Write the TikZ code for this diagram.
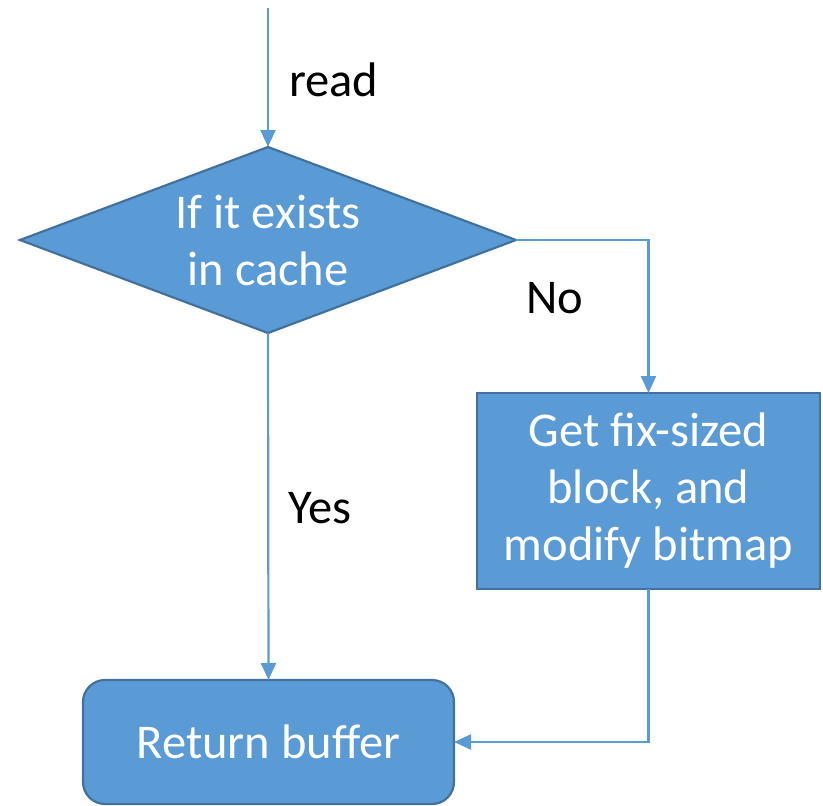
\documentclass[tikz,border=0pt]{standalone}
\usepackage{fontspec}
\setmainfont{Carlito}
\usetikzlibrary{shapes.geometric,arrows.meta}
\definecolor{boxfill}{HTML}{5B9BD5}
\definecolor{boxedge}{HTML}{41719C}
\definecolor{lineblue}{HTML}{5B9BD5}
\begin{document}
\begin{tikzpicture}[x=1pt,y=-1pt,
  shapebox/.style={fill=boxfill,draw=boxedge,line width=2.2pt,text=white,
    font=\fontsize{48.5}{57}\selectfont,align=center,inner sep=0pt,outer sep=0pt},
  conn/.style={draw=lineblue,line width=2.2pt,-{Triangle[length=17pt,width=15pt]}},
  lbl/.style={font=\fontsize{48.5}{57}\selectfont,text=black,inner sep=0pt}]
\useasboundingbox (0,0) rectangle (823,806);
\node[shapebox,diamond,aspect=2.7,minimum width=496pt,minimum height=186pt] (d) at (268,240) {If it exists\\in cache};
\node[shapebox,rectangle,minimum width=343pt,minimum height=196pt] (r) at (648.5,491) {Get fix-sized\\block, and\\modify bitmap};
\node[shapebox,rectangle,rounded corners=22pt,minimum width=371pt,minimum height=124pt] (b) at (268.5,742) {Return buffer};
\coordinate (start) at (268,8);
\draw[conn] (start) -- (d.north);
\draw[conn] (d.east) -| (r.north);
\draw[conn] (d.south) -- (b.north);
\draw[conn] (r.south) |- (b.east);
\node[lbl,anchor=west] (lread) at (289,80) {read};
\node[lbl] (lno) at (555,298) {No};
\node[lbl] (lyes) at (320,508) {Yes};
\end{tikzpicture}
\end{document}
